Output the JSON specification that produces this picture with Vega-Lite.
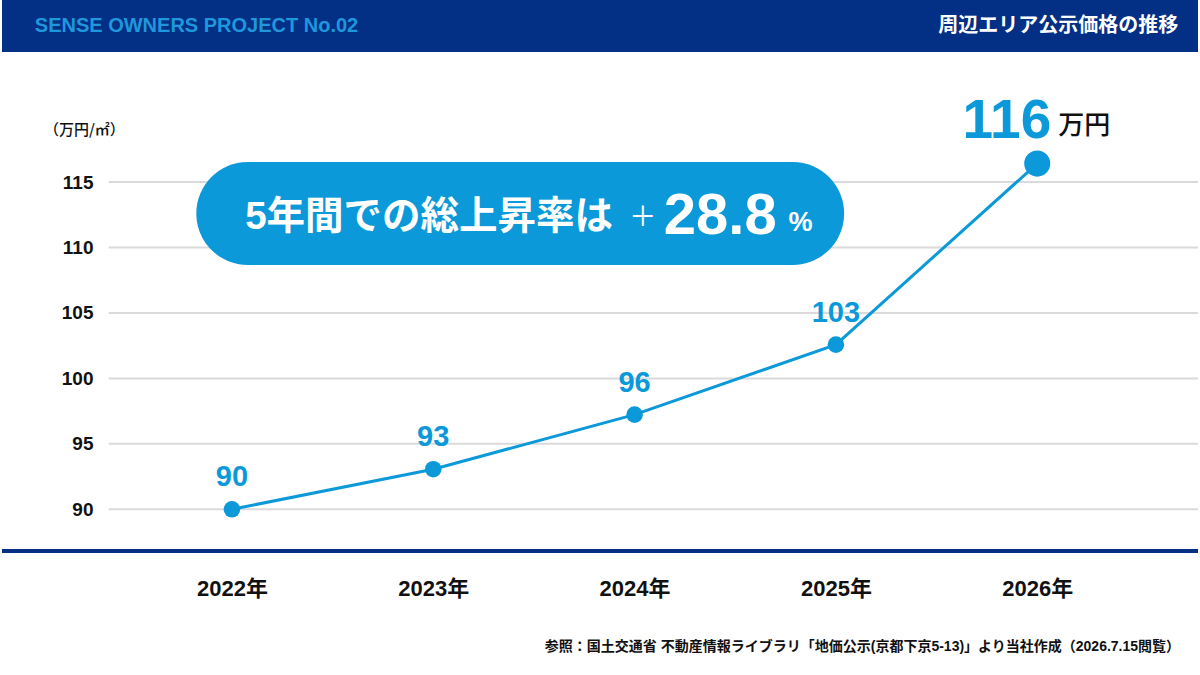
{
  "$schema": "https://vega.github.io/schema/vega-lite/v6.json",
  "width": 1200,
  "height": 675,
  "padding": 0,
  "autosize": {"type": "fit", "contains": "padding"},
  "background": "#ffffff",
  "config": {"view": {"stroke": null}},
  "resolve": {"axis": {"x": "independent", "y": "independent"}},
  "datasets": {
    "prices": [
      {"year": 2022, "value": 90.0, "label": "90"},
      {"year": 2023, "value": 93.06, "label": "93"},
      {"year": 2024, "value": 97.23, "label": "96"},
      {"year": 2025, "value": 102.58, "label": "103"},
      {"year": 2026, "value": 116.41, "label": "116"}
    ],
    "grid": [
      {"tick": 90}, {"tick": 95}, {"tick": 100}, {"tick": 105}, {"tick": 110}, {"tick": 115}
    ],
    "one": [{}]
  },
  "layer": [
    {
      "data": {"name": "one"},
      "mark": {"type": "rect", "fill": "#032f84", "clip": true},
      "encoding": {
        "y": {"datum": 130, "type": "quantitative", "scale": {"domain": [77.341, 128.907], "nice": false, "zero": false}, "axis": null},
        "y2": {"datum": 124.935}
      }
    },
    {
      "data": {"name": "one"},
      "mark": {"type": "text", "text": "SENSE OWNERS PROJECT No.02", "align": "left", "baseline": "middle", "font": "Liberation Sans", "fontSize": 20, "fontWeight": "bold", "color": "#1f97dc"},
      "encoding": {
        "x": {"datum": 2021.021, "type": "quantitative", "scale": {"domain": [2020.858, 2026.7985], "nice": false, "zero": false}, "axis": null},
        "y": {"datum": 126.921, "type": "quantitative", "scale": {"domain": [77.341, 128.907], "nice": false, "zero": false}, "axis": null}
      }
    },
    {
      "data": {"name": "one"},
      "mark": {"type": "text", "text": "周辺エリア公示価格の推移", "align": "right", "baseline": "middle", "font": "Noto Sans CJK JP", "fontSize": 20, "fontWeight": "bold", "color": "#ffffff"},
      "encoding": {
        "x": {"datum": 2026.7, "type": "quantitative", "scale": {"domain": [2020.858, 2026.7985], "nice": false, "zero": false}, "axis": null},
        "y": {"datum": 126.921, "type": "quantitative", "scale": {"domain": [77.341, 128.907], "nice": false, "zero": false}, "axis": null}
      }
    },
    {
      "data": {"name": "grid"},
      "mark": {"type": "rule", "stroke": "#dadada", "strokeWidth": 2},
      "encoding": {
        "x": {"datum": 2021.388, "type": "quantitative", "scale": {"domain": [2020.858, 2026.7985], "nice": false, "zero": false}, "axis": null},
        "x2": {"datum": 2026.798},
        "y": {"field": "tick", "type": "quantitative", "scale": {"domain": [77.341, 128.907], "nice": false, "zero": false}, "axis": null}
      }
    },
    {
      "data": {"name": "one"},
      "mark": {"type": "rule", "stroke": "#032f84", "strokeWidth": 4},
      "encoding": {
        "y": {"datum": 86.814, "type": "quantitative", "scale": {"domain": [77.341, 128.907], "nice": false, "zero": false}, "axis": null}
      }
    },
    {
      "data": {"name": "one"},
      "mark": {"type": "rect", "fill": "#0b99d9", "cornerRadius": 52},
      "encoding": {
        "x": {"datum": 2021.823, "type": "quantitative", "scale": {"domain": [2020.858, 2026.7985], "nice": false, "zero": false}, "axis": null},
        "x2": {"datum": 2025.041},
        "y": {"datum": 116.531, "type": "quantitative", "scale": {"domain": [77.341, 128.907], "nice": false, "zero": false}, "axis": null},
        "y2": {"datum": 108.663}
      }
    },
    {
      "data": {"name": "one"},
      "mark": {"type": "text", "text": "5年間での総上昇率は", "align": "left", "baseline": "alphabetic", "font": "Liberation Sans, Noto Sans CJK JP", "fontSize": 38.5, "fontWeight": "bold", "color": "#ffffff"},
      "encoding": {
        "x": {"datum": 2022.066, "type": "quantitative", "scale": {"domain": [2020.858, 2026.7985], "nice": false, "zero": false}, "axis": null},
        "y": {"datum": 111.413, "type": "quantitative", "scale": {"domain": [77.341, 128.907], "nice": false, "zero": false}, "axis": null}
      }
    },
    {
      "data": {"name": "one"},
      "mark": {"type": "text", "text": "＋", "align": "center", "baseline": "alphabetic", "font": "Noto Sans CJK JP", "fontSize": 27, "fontWeight": 400, "color": "#ffffff"},
      "encoding": {
        "x": {"datum": 2024.041, "type": "quantitative", "scale": {"domain": [2020.858, 2026.7985], "nice": false, "zero": false}, "axis": null},
        "y": {"datum": 111.657, "type": "quantitative", "scale": {"domain": [77.341, 128.907], "nice": false, "zero": false}, "axis": null}
      }
    },
    {
      "data": {"name": "one"},
      "mark": {"type": "text", "text": "28.8", "align": "left", "baseline": "alphabetic", "font": "Liberation Sans", "fontSize": 58, "fontWeight": "bold", "color": "#ffffff"},
      "encoding": {
        "x": {"datum": 2024.145, "type": "quantitative", "scale": {"domain": [2020.858, 2026.7985], "nice": false, "zero": false}, "axis": null},
        "y": {"datum": 111.031, "type": "quantitative", "scale": {"domain": [77.341, 128.907], "nice": false, "zero": false}, "axis": null}
      }
    },
    {
      "data": {"name": "one"},
      "mark": {"type": "text", "text": "%", "align": "left", "baseline": "alphabetic", "font": "Liberation Sans", "fontSize": 27, "fontWeight": "bold", "color": "#ffffff"},
      "encoding": {
        "x": {"datum": 2024.764, "type": "quantitative", "scale": {"domain": [2020.858, 2026.7985], "nice": false, "zero": false}, "axis": null},
        "y": {"datum": 111.222, "type": "quantitative", "scale": {"domain": [77.341, 128.907], "nice": false, "zero": false}, "axis": null}
      }
    },
    {
      "data": {"name": "one"},
      "mark": {"type": "text", "text": "（万円/㎡）", "align": "left", "baseline": "middle", "font": "Noto Sans CJK JP", "fontSize": 15, "fontWeight": 500, "color": "#111111"},
      "encoding": {
        "x": {"datum": 2021.066, "type": "quantitative", "scale": {"domain": [2020.858, 2026.7985], "nice": false, "zero": false}, "axis": null},
        "y": {"datum": 118.976, "type": "quantitative", "scale": {"domain": [77.341, 128.907], "nice": false, "zero": false}, "axis": null}
      }
    },
    {
      "data": {"name": "one"},
      "mark": {"type": "text", "text": "参照：国土交通省 不動産情報ライブラリ「地価公示(京都下京5-13)」より当社作成（2026.7.15閲覧）", "align": "right", "baseline": "middle", "font": "Liberation Sans, Noto Sans CJK JP", "fontSize": 14, "fontWeight": "bold", "color": "#111111"},
      "encoding": {
        "x": {"datum": 2026.7095, "type": "quantitative", "scale": {"domain": [2020.858, 2026.7985], "nice": false, "zero": false}, "axis": null},
        "y": {"datum": 79.48, "type": "quantitative", "scale": {"domain": [77.341, 128.907], "nice": false, "zero": false}, "axis": null}
      }
    },
    {
      "data": {"name": "prices"},
      "mark": {"type": "line", "stroke": "#0b99d9", "strokeWidth": 3},
      "encoding": {
        "x": {
          "field": "year", "type": "quantitative",
          "scale": {"domain": [2020.858, 2026.7985], "nice": false, "zero": false},
          "axis": {"values": [2022, 2023, 2024, 2025, 2026], "labelExpr": "datum.value + '年'", "title": null, "orient": "bottom", "offset": -87, "domain": false, "ticks": false, "grid": false, "labelPadding": 0, "labelBaseline": "middle", "labelFont": "Liberation Sans, Noto Sans CJK JP", "labelFontSize": 22, "labelFontWeight": "bold", "labelColor": "#111111", "labelFlush": false}
        },
        "y": {
          "field": "value", "type": "quantitative",
          "scale": {"domain": [77.341, 128.907], "nice": false, "zero": false},
          "axis": {"values": [90, 95, 100, 105, 110, 115], "title": null, "orient": "left", "offset": -91, "domain": false, "ticks": false, "grid": false, "labelPadding": 0, "labelAlign": "right", "labelBaseline": "middle", "labelFont": "Liberation Sans", "labelFontSize": 19, "labelFontWeight": "bold", "labelColor": "#111111", "labelFlush": false}
        }
      }
    },
    {
      "data": {"name": "prices"},
      "mark": {"type": "circle", "fill": "#0b99d9", "opacity": 1},
      "encoding": {
        "x": {"field": "year", "type": "quantitative", "scale": {"domain": [2020.858, 2026.7985], "nice": false, "zero": false}, "axis": null},
        "y": {"field": "value", "type": "quantitative", "scale": {"domain": [77.341, 128.907], "nice": false, "zero": false}, "axis": null},
        "size": {"condition": {"test": "datum.year == 2026", "value": 680}, "value": 275}
      }
    },
    {
      "data": {"name": "prices"},
      "transform": [{"filter": "datum.year < 2026"}],
      "mark": {"type": "text", "align": "center", "baseline": "middle", "dy": -32, "font": "Liberation Sans", "fontSize": 29, "fontWeight": "bold", "color": "#0b99d9"},
      "encoding": {
        "x": {"field": "year", "type": "quantitative", "scale": {"domain": [2020.858, 2026.7985], "nice": false, "zero": false}, "axis": null},
        "y": {"field": "value", "type": "quantitative", "scale": {"domain": [77.341, 128.907], "nice": false, "zero": false}, "axis": null},
        "text": {"field": "label"}
      }
    },
    {
      "data": {"name": "prices"},
      "transform": [{"filter": "datum.year == 2026"}],
      "mark": {"type": "text", "align": "right", "baseline": "alphabetic", "dx": 14, "dy": -26, "font": "Liberation Sans", "fontSize": 55, "fontWeight": "bold", "color": "#0b99d9"},
      "encoding": {
        "x": {"field": "year", "type": "quantitative", "scale": {"domain": [2020.858, 2026.7985], "nice": false, "zero": false}, "axis": null},
        "y": {"field": "value", "type": "quantitative", "scale": {"domain": [77.341, 128.907], "nice": false, "zero": false}, "axis": null},
        "text": {"field": "label"}
      }
    },
    {
      "data": {"name": "prices"},
      "transform": [{"filter": "datum.year == 2026"}],
      "mark": {"type": "text", "text": "万円", "align": "left", "baseline": "alphabetic", "dx": 21, "dy": -30, "font": "Noto Sans CJK JP", "fontSize": 26, "fontWeight": 500, "color": "#111111"},
      "encoding": {
        "x": {"field": "year", "type": "quantitative", "scale": {"domain": [2020.858, 2026.7985], "nice": false, "zero": false}, "axis": null},
        "y": {"field": "value", "type": "quantitative", "scale": {"domain": [77.341, 128.907], "nice": false, "zero": false}, "axis": null}
      }
    }
  ]
}
